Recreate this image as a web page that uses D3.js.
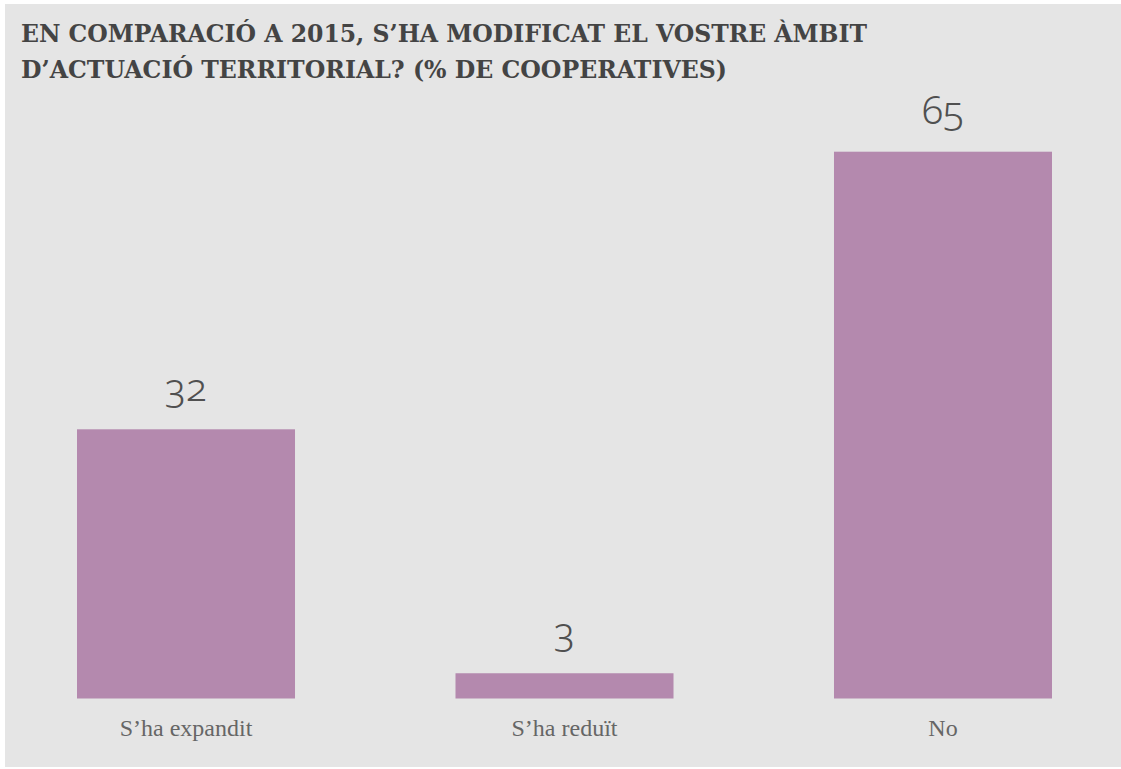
<!DOCTYPE html>
<html>
<head>
<meta charset="utf-8">
<script src="https://cdn.jsdelivr.net/npm/d3@7"></script>
<style>
  html, body { margin: 0; padding: 0; background: #ffffff; }
  svg { display: block; }
</style>
</head>
<body>
<svg id="chart" width="1121" height="769"></svg>
<script>
const titleLines = [
  "EN COMPARACIÓ A 2015, S\u2019HA MODIFICAT EL VOSTRE ÀMBIT",
  "D\u2019ACTUACIÓ TERRITORIAL? (% DE COOPERATIVES)"
];
const categories = ["S\u2019ha expandit", "S\u2019ha reduït", "No"];
const values = [32, 3, 65];

const W = 1121, H = 769;
const svg = d3.select("#chart");

svg.append("rect")
  .attr("x", 5).attr("y", 4)
  .attr("width", W - 5).attr("height", H - 6)
  .attr("fill", "#e5e5e5");

// title
const titleWidths = [846, 706];
svg.selectAll("text.title")
  .data(titleLines)
  .join("text")
  .attr("class", "title")
  .attr("x", 21)
  .attr("y", (d, i) => 41.5 + i * 36.5)
  .attr("font-family", "'DejaVu Serif', serif")
  .attr("font-weight", "bold")
  .attr("font-size", 23.5)
  .attr("fill", "#444444")
  .attr("textLength", (d, i) => titleWidths[i])
  .attr("lengthAdjust", "spacingAndGlyphs")
  .text(d => d);

const x = d3.scaleBand()
  .domain(categories)
  .range([77, 1052])
  .paddingInner(0.424)
  .paddingOuter(0);

const y = d3.scaleLinear()
  .domain([0, 65])
  .range([698.5, 151.7]);

svg.selectAll("rect.bar")
  .data(values)
  .join("rect")
  .attr("class", "bar")
  .attr("x", (d, i) => x(categories[i]))
  .attr("y", d => y(d))
  .attr("width", x.bandwidth())
  .attr("height", d => y(0) - y(d))
  .attr("fill", "#b489ae");

svg.selectAll("text.val")
  .data(values)
  .join("text")
  .attr("class", "val")
  .attr("x", (d, i) => x(categories[i]) + x.bandwidth() / 2)
  .attr("y", d => y(d) - 28)
  .attr("text-anchor", "middle")
  .attr("font-family", "'Noto Sans', Lato, sans-serif")
  .attr("font-weight", 300)
  .attr("font-size", 39)
  .style("font-feature-settings", "'onum' 1")
  .attr("fill", "#505050")
  .text(d => d);

// category axis labels
const xAxis = d3.axisBottom(x).tickSize(0).tickPadding(0);
const gx = svg.append("g")
  .attr("transform", `translate(0, ${y(0)})`)
  .call(xAxis);
gx.select(".domain").remove();
gx.selectAll("text")
  .attr("dy", null)
  .attr("y", 37)
  .attr("font-family", "'Liberation Serif', serif")
  .attr("font-size", 24)
  .attr("fill", "#666666");
</script>
</body>
</html>
